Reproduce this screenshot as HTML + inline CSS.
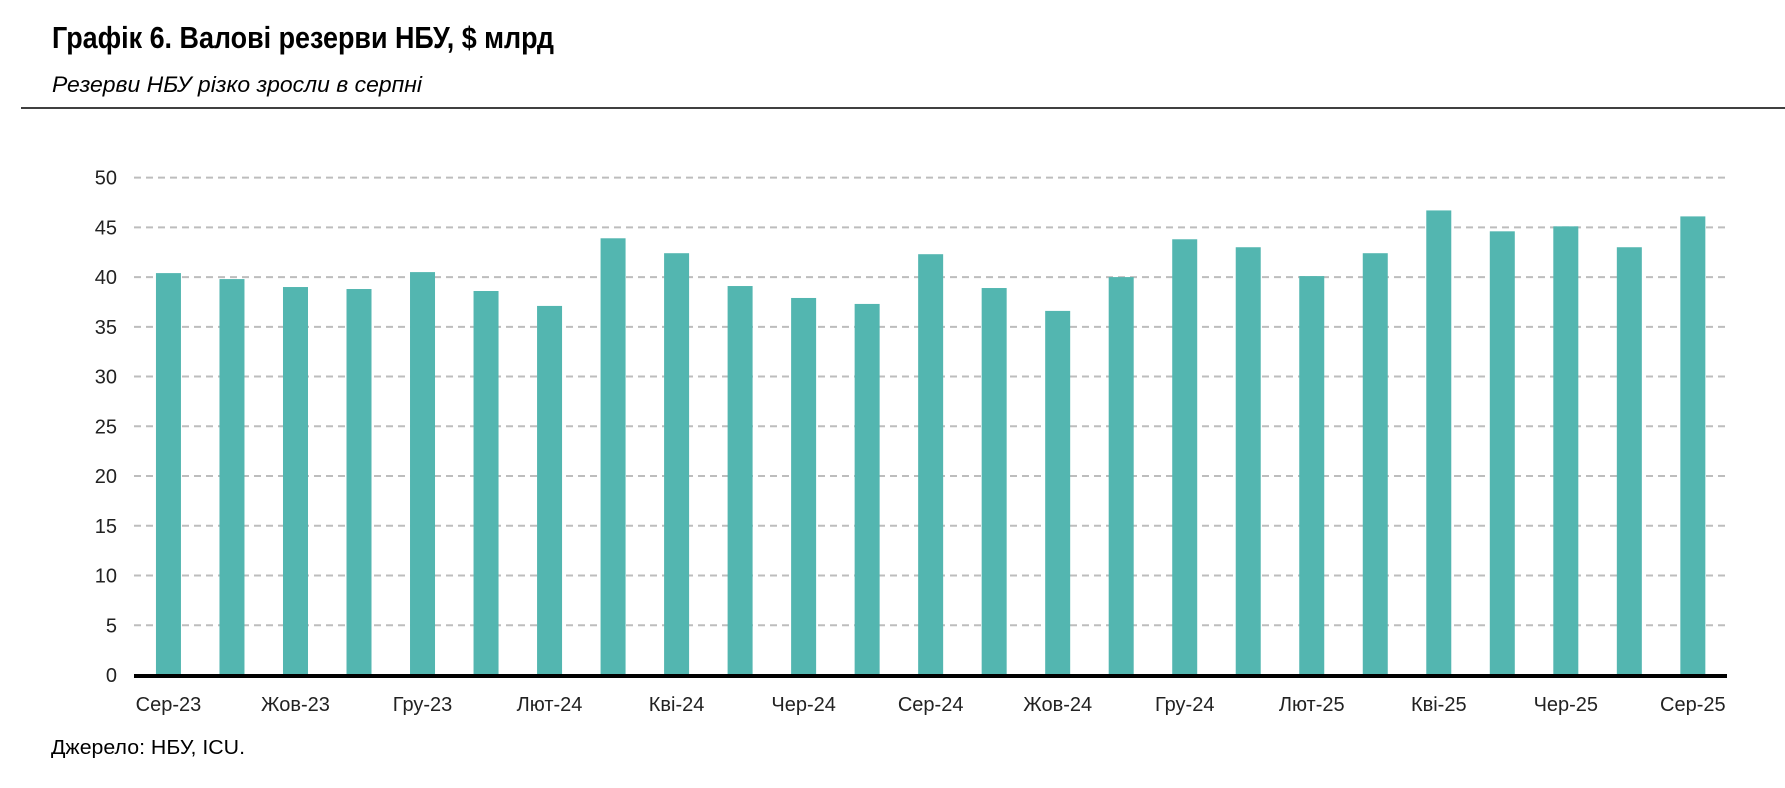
<!DOCTYPE html>
<html><head><meta charset="utf-8"><style>
body{margin:0;background:#fff;}
svg{display:block;font-family:"Liberation Sans",sans-serif;}
</style></head><body>
<svg id="chart" width="1785" height="788" viewBox="0 0 1785 788">
<text x="52" y="48" font-size="31" font-weight="bold" fill="#000" textLength="502" lengthAdjust="spacingAndGlyphs">Графік 6. Валові резерви НБУ, $ млрд</text>
<text x="52" y="92" font-size="22" font-style="italic" fill="#000" textLength="370" lengthAdjust="spacingAndGlyphs">Резерви НБУ різко зросли в серпні</text>
<line x1="21" y1="108" x2="1785" y2="108" stroke="#000" stroke-width="1.5"/>
<g id="grid"></g><g id="bars"></g><g id="ylabels"></g><g id="xlabels"></g>
<line x1="134" y1="676" x2="1727" y2="676" stroke="#000" stroke-width="4"/>
<text x="51" y="754" font-size="20" fill="#000" textLength="194" lengthAdjust="spacingAndGlyphs">Джерело: НБУ, ICU.</text>
</svg>
<script>
const categories=["Сер-23","Вер-23","Жов-23","Лис-23","Гру-23","Січ-24","Лют-24","Бер-24","Кві-24","Тра-24","Чер-24","Лип-24","Сер-24","Вер-24","Жов-24","Лис-24","Гру-24","Січ-25","Лют-25","Бер-25","Кві-25","Тра-25","Чер-25","Лип-25","Сер-25"];
const values=[40.4,39.8,39.0,38.8,40.5,38.6,37.1,43.9,42.4,39.1,37.9,37.3,42.3,38.9,36.6,40.0,43.8,43.0,40.1,42.4,46.7,44.6,45.1,43.0,46.1];
const yTicks=[0,5,10,15,20,25,30,35,40,45,50];
const NS="http://www.w3.org/2000/svg";
const plotL=136.7,plotR=1724.6,y0=675,y50=177.6;
const step=(plotR-plotL)/categories.length;
const xc=i=>plotL+step*(i+0.5);
const yv=v=>y0-(v/50)*(y0-y50);
const mk=(t,a,p)=>{const e=document.createElementNS(NS,t);for(const k in a)e.setAttribute(k,a[k]);p.appendChild(e);return e;};
const grid=document.getElementById('grid'),bars=document.getElementById('bars'),yl=document.getElementById('ylabels'),xl=document.getElementById('xlabels');
yTicks.forEach(t=>{
  if(t>0){const g=mk('line',{x1:134,x2:1727,y1:yv(t),y2:yv(t),stroke:'#bdbdbd','stroke-width':2,'stroke-dasharray':'7,5'},grid);
  
  }
  const l=mk('text',{x:117,y:yv(t)+7,'font-size':20,'text-anchor':'end',fill:'#222'},yl);
  l.textContent=t;
  
  
});
values.forEach((v,i)=>{
  const r=mk('rect',{x:xc(i)-12.5,y:yv(v),width:25,height:y0-yv(v),fill:'#53b6b0'},bars);
  
  
  if(i%2===0){
    const t=mk('text',{x:xc(i),y:711,'font-size':20,'text-anchor':'middle',fill:'#222'},xl);
    t.textContent=categories[i];
    
    
  }
});
</script>
</body></html>
